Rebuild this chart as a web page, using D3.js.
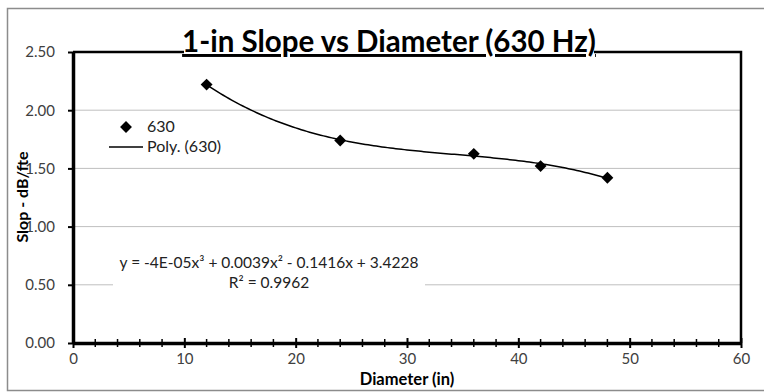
<!DOCTYPE html>
<html>
<head>
<meta charset="utf-8">
<script src="https://cdn.jsdelivr.net/npm/d3@7"></script>
<style>
  body { margin: 0; background: #fff; }
  text { font-family: Lato, "Open Sans", sans-serif; }
</style>
</head>
<body>
<div id="chart"></div>
<script>
// data
var diameters = [12, 24, 36, 42, 48]
var slopes = [2.22, 1.74, 1.625, 1.52, 1.42]
var xTicks = [0, 10, 20, 30, 40, 50, 60]
var yTicks = [0, 0.5, 1.0, 1.5, 2.0, 2.5]
var seriesName = '630'
var equationText = 'y = -4E-05x³ + 0.0039x² - 0.1416x + 3.4228'
var r2Text = 'R² = 0.9962'

var width = 764, height = 392
var svg = d3.select('#chart').append('svg')
  .attr('width', width)
  .attr('height', height)

// outer chart border
svg.append('rect')
  .attr('x', 7.5).attr('y', 8.5)
  .attr('width', 770).attr('height', 382)
  .attr('fill', '#fff')
  .attr('stroke', '#8c8c8c')
  .attr('stroke-width', 1.5)

var plotLeft = 73, plotRight = 741, plotTop = 52, plotBottom = 343

var x = d3.scaleLinear().domain([0, 60]).range([plotLeft, plotRight])
var y = d3.scaleLinear().domain([0, 2.5]).range([plotBottom, plotTop])

// gridlines
svg.append('g')
  .selectAll('line')
  .data(yTicks.filter(function(d){ return d > 0 && d < 2.5 }))
  .join('line')
  .attr('x1', plotLeft).attr('x2', plotRight)
  .attr('y1', function(d){ return y(d) }).attr('y2', function(d){ return y(d) })
  .attr('stroke', '#bfbfbf')
  .attr('stroke-width', 1)

// plot frame (top / right)
svg.append('path')
  .attr('d', 'M' + plotLeft + ',' + plotTop + 'H' + plotRight + 'V' + plotBottom)
  .attr('fill', 'none')
  .attr('stroke', '#000')
  .attr('stroke-width', 2.5)

// y axis
var yAxis = svg.append('g')
  .attr('transform', 'translate(' + plotLeft + ',0)')
  .call(d3.axisLeft(y).tickValues(yTicks).tickFormat(d3.format('.2f')).tickSize(0).tickPadding(18))
yAxis.select('.domain').attr('stroke-width', 3.5)
yAxis.selectAll('.tick line').attr('x1', -5).attr('x2', 0).attr('stroke-width', 2)
yAxis.selectAll('text')
  .attr('font-family', 'Lato, "Open Sans", sans-serif')
  .attr('font-size', 15)
  .attr('fill', '#404040')

// x axis, minor ticks every 2
var xAxis = svg.append('g')
  .attr('transform', 'translate(0,' + plotBottom + ')')
  .call(d3.axisBottom(x).tickValues(xTicks).tickSize(0).tickPadding(10))
xAxis.select('.domain').attr('stroke-width', 3.5)
xAxis.selectAll('.tick line').attr('y1', -5).attr('y2', 5).attr('stroke-width', 2)
xAxis.selectAll('text')
  .attr('font-family', 'Lato, "Open Sans", sans-serif')
  .attr('font-size', 15)
  .attr('fill', '#404040')
xAxis.append('g')
  .selectAll('line')
  .data(d3.range(2, 60, 2).filter(function(d){ return d % 10 != 0 }))
  .join('line')
  .attr('x1', function(d){ return x(d) }).attr('x2', function(d){ return x(d) })
  .attr('y1', -4).attr('y2', 4)
  .attr('stroke', '#000')
  .attr('stroke-width', 1.5)

// cubic least squares fit (the Excel trendline)
function polyfit(xs, ys, deg){
  var n = deg + 1
  var A = [], b = []
  for(var i = 0; i < n; i++){
    A.push([])
    for(var j = 0; j < n; j++){
      A[i].push(d3.sum(xs, function(v){ return Math.pow(v, i + j) }))
    }
    b.push(d3.sum(xs, function(v, k){ return ys[k] * Math.pow(v, i) }))
  }
  for(var c = 0; c < n; c++){
    var p = c
    for(var r = c + 1; r < n; r++) if(Math.abs(A[r][c]) > Math.abs(A[p][c])) p = r
    var t = A[c]; A[c] = A[p]; A[p] = t
    var tb = b[c]; b[c] = b[p]; b[p] = tb
    for(var r = c + 1; r < n; r++){
      var f = A[r][c] / A[c][c]
      for(var k = c; k < n; k++) A[r][k] -= f * A[c][k]
      b[r] -= f * b[c]
    }
  }
  var coef = new Array(n)
  for(var i = n - 1; i >= 0; i--){
    var s = b[i]
    for(var k = i + 1; k < n; k++) s -= A[i][k] * coef[k]
    coef[i] = s / A[i][i]
  }
  return coef
}
var coef = polyfit(diameters, slopes, 3)
var fitX = d3.range(diameters[0], diameters[diameters.length - 1] + 0.01, 0.25)
var line = d3.line()
  .x(function(d){ return x(d) })
  .y(function(d){ return y(coef[0] + coef[1]*d + coef[2]*d*d + coef[3]*d*d*d) })
svg.append('path')
  .datum(fitX)
  .attr('d', line)
  .attr('fill', 'none')
  .attr('stroke', '#000')
  .attr('stroke-width', 1.5)

// markers
var diamond = d3.symbol().type(d3.symbolDiamond2).size(90)
svg.append('g')
  .selectAll('path')
  .data(diameters)
  .join('path')
  .attr('d', diamond)
  .attr('transform', function(d, i){ return 'translate(' + x(d) + ',' + y(slopes[i]) + ')' })
  .attr('fill', '#000')

// trendline label with white box
svg.append('rect')
  .attr('x', 113).attr('y', 252)
  .attr('width', 312).attr('height', 42)
  .attr('fill', '#fff')
svg.append('text')
  .attr('x', 269).attr('y', 268)
  .attr('text-anchor', 'middle')
  .attr('font-size', 15.5)
  .attr('fill', '#222')
  .text(equationText)
svg.append('text')
  .attr('x', 269).attr('y', 288)
  .attr('text-anchor', 'middle')
  .attr('font-size', 15.5)
  .attr('fill', '#222')
  .text(r2Text)

// legend
svg.append('path')
  .attr('d', diamond)
  .attr('transform', 'translate(126,127)')
  .attr('fill', '#000')
svg.append('text')
  .attr('x', 147).attr('y', 132)
  .attr('font-size', 16)
  .attr('fill', '#222')
  .text(seriesName)
svg.append('line')
  .attr('x1', 109).attr('x2', 143)
  .attr('y1', 147).attr('y2', 147)
  .attr('stroke', '#000')
  .attr('stroke-width', 1.5)
svg.append('text')
  .attr('x', 147).attr('y', 152)
  .attr('font-size', 16)
  .attr('fill', '#222')
  .text('Poly. (' + seriesName + ')')

// title
svg.append('rect')
  .attr('x', 184).attr('y', 30)
  .attr('width', 410).attr('height', 30)
  .attr('fill', '#fff')
svg.append('text')
  .attr('x', 389).attr('y', 52)
  .attr('text-anchor', 'middle')
  .attr('font-size', 29.5)
  .attr('font-weight', 'bold')
  .attr('text-decoration', 'underline')
  .attr('fill', '#000')
  .text('1-in Slope vs Diameter (630 Hz)')

// axis titles
svg.append('text')
  .attr('transform', 'translate(28,197) rotate(-90)')
  .attr('text-anchor', 'middle')
  .attr('font-size', 16)
  .attr('font-weight', 'bold')
  .attr('fill', '#000')
  .text('Slop - dB/fte')
svg.append('text')
  .attr('x', 407).attr('y', 385)
  .attr('text-anchor', 'middle')
  .attr('font-size', 16.5)
  .attr('font-weight', 'bold')
  .attr('fill', '#000')
  .text('Diameter (in)')
</script>
</body>
</html>
